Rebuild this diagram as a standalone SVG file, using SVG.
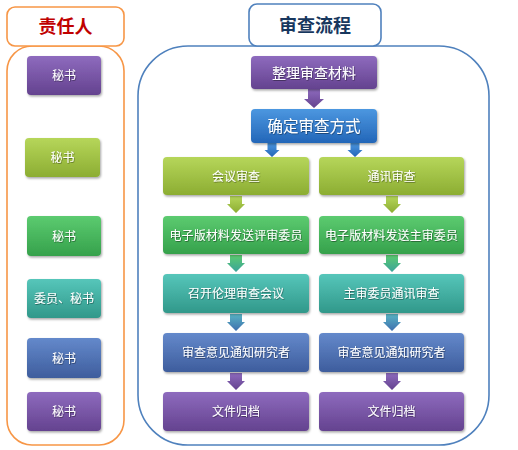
<svg xmlns="http://www.w3.org/2000/svg" width="518" height="450" viewBox="0 0 518 450">
<defs>
<linearGradient id="gPurple" x1="0" y1="0" x2="0" y2="1"><stop offset="0" stop-color="#8E6BBE"/><stop offset="1" stop-color="#64428F"/></linearGradient>
<linearGradient id="gBlue" x1="0" y1="0" x2="0" y2="1"><stop offset="0" stop-color="#4C97E0"/><stop offset="1" stop-color="#2366B8"/></linearGradient>
<linearGradient id="gLime" x1="0" y1="0" x2="0" y2="1"><stop offset="0" stop-color="#B6D65A"/><stop offset="1" stop-color="#8CAD32"/></linearGradient>
<linearGradient id="gGreen" x1="0" y1="0" x2="0" y2="1"><stop offset="0" stop-color="#5CCB70"/><stop offset="1" stop-color="#35A14B"/></linearGradient>
<linearGradient id="gTeal" x1="0" y1="0" x2="0" y2="1"><stop offset="0" stop-color="#56C6BA"/><stop offset="1" stop-color="#31988A"/></linearGradient>
<linearGradient id="gSteel" x1="0" y1="0" x2="0" y2="1"><stop offset="0" stop-color="#6489CB"/><stop offset="1" stop-color="#3E5D9D"/></linearGradient>
<linearGradient id="gArrowGT" x1="0" y1="0" x2="0" y2="1"><stop offset="0" stop-color="#5CCB70"/><stop offset="1" stop-color="#3AA39A"/></linearGradient>
<linearGradient id="gArrowTB" x1="0" y1="0" x2="0" y2="1"><stop offset="0" stop-color="#58B4C4"/><stop offset="1" stop-color="#3F6FAE"/></linearGradient>
<filter id="sh" x="-10%" y="-20%" width="125%" height="150%"><feDropShadow dx="1" dy="1.5" stdDeviation="1.2" flood-color="#000" flood-opacity="0.35"/></filter>
<filter id="tsh" x="-10%" y="-30%" width="130%" height="160%"><feDropShadow dx="0.6" dy="0.8" stdDeviation="0.4" flood-color="#000" flood-opacity="0.45"/></filter>
</defs>
<style>
.t{font-family:"Noto Sans CJK SC","Noto Sans",sans-serif;fill:#fff;text-anchor:middle;filter:url(#tsh)}
.n{filter:url(#sh)}
.h{font-family:"Noto Sans CJK SC","Noto Sans",sans-serif;font-weight:bold;text-anchor:middle}
</style>
<rect width="518" height="450" fill="#fff"/>
<!-- containers -->
<g id="left-container">
<rect x="7" y="46" width="117" height="399" rx="25" fill="#fff" stroke="#F79646" stroke-width="1.6"/>
<rect x="7" y="7" width="117" height="39" rx="8" fill="#fff" stroke="#F79646" stroke-width="1.6"/>
<text class="h" x="65.5" y="33" font-size="18" fill="#C00000">责任人</text>
</g>
<g id="right-container">
<rect x="138" y="46" width="351" height="399" rx="50" fill="#fff" stroke="#4F81BD" stroke-width="1.6"/>
<rect x="249" y="4" width="132" height="42" rx="8" fill="#fff" stroke="#4F81BD" stroke-width="1.6"/>
<text class="h" x="315" y="32" font-size="18" fill="#17375E">审查流程</text>
</g>
<!-- left nodes -->
<g id="r1" class="n"><rect x="27" y="56" width="74" height="39" rx="4" fill="url(#gPurple)"/><text class="t" x="64" y="80" font-size="12">秘书</text></g>
<g id="r2" class="n"><rect x="25" y="138" width="75" height="39" rx="4" fill="url(#gLime)"/><text class="t" x="62.5" y="162" font-size="12">秘书</text></g>
<g id="r3" class="n"><rect x="27" y="216" width="74" height="40" rx="4" fill="url(#gGreen)"/><text class="t" x="64" y="240.5" font-size="12">秘书</text></g>
<g id="r4" class="n"><rect x="27" y="279" width="74" height="39" rx="4" fill="url(#gTeal)"/><text class="t" x="64" y="303" font-size="12">委员、秘书</text></g>
<g id="r5" class="n"><rect x="27" y="338" width="74" height="40" rx="4" fill="url(#gSteel)"/><text class="t" x="64" y="362.5" font-size="12">秘书</text></g>
<g id="r6" class="n"><rect x="27" y="392" width="74" height="39" rx="4" fill="url(#gPurple)"/><text class="t" x="64" y="416" font-size="12">秘书</text></g>
<!-- connectors -->
<g id="connectors">
<path d="M308,89 H320 V99 H324 L314,108 L304,99 H308 Z" fill="url(#gPurple)"/>
<path d="M267.5,143 H276.5 V150 H279.5 L272,157 L264.5,150 H267.5 Z" fill="url(#gBlue)"/>
<path d="M350.5,143 H359.5 V150 H362.5 L355,157 L347.5,150 H350.5 Z" fill="url(#gBlue)"/>
<path d="M230,196 H242 V204 H245 L236,213 L227,204 H230 Z" fill="url(#gLime)"/>
<path d="M386,196 H398 V204 H401 L392,213 L383,204 H386 Z" fill="url(#gLime)"/>
<path d="M230,255 H242 V263 H245 L236,272 L227,263 H230 Z" fill="url(#gArrowGT)"/>
<path d="M386,255 H398 V263 H401 L392,272 L383,263 H386 Z" fill="url(#gArrowGT)"/>
<path d="M230,314 H242 V322 H245 L236,331 L227,322 H230 Z" fill="url(#gArrowTB)"/>
<path d="M386,314 H398 V322 H401 L392,331 L383,322 H386 Z" fill="url(#gArrowTB)"/>
<path d="M230,373 H242 V381 H245 L236,390 L227,381 H230 Z" fill="url(#gPurple)"/>
<path d="M386,373 H398 V381 H401 L392,390 L383,381 H386 Z" fill="url(#gPurple)"/>
</g>
<!-- flow nodes -->
<g id="f1" class="n"><rect x="251" y="56" width="126" height="33" rx="4" fill="url(#gPurple)"/><text class="t" x="314" y="77.5" font-size="14">整理审查材料</text></g>
<g id="f2" class="n"><rect x="251" y="109" width="126" height="34" rx="4" fill="url(#gBlue)"/><text class="t" x="314" y="131.5" font-size="15.5">确定审查方式</text></g>
<g id="a1" class="n"><rect x="163" y="157" width="146" height="38" rx="4" fill="url(#gLime)"/><text class="t" x="236" y="180.5" font-size="12">会议审查</text></g>
<g id="b1" class="n"><rect x="319" y="157" width="145" height="38" rx="4" fill="url(#gLime)"/><text class="t" x="391.5" y="180.5" font-size="12">通讯审查</text></g>
<g id="a2" class="n"><rect x="163" y="216" width="146" height="38" rx="4" fill="url(#gGreen)"/><text class="t" x="236" y="239.5" font-size="12" letter-spacing="0.1">电子版材料发送评审委员</text></g>
<g id="b2" class="n"><rect x="319" y="216" width="145" height="38" rx="4" fill="url(#gGreen)"/><text class="t" x="391.5" y="239.5" font-size="12" letter-spacing="0.1">电子版材料发送主审委员</text></g>
<g id="a3" class="n"><rect x="163" y="274" width="146" height="39" rx="4" fill="url(#gTeal)"/><text class="t" x="236" y="298" font-size="12">召开伦理审查会议</text></g>
<g id="b3" class="n"><rect x="319" y="274" width="145" height="39" rx="4" fill="url(#gTeal)"/><text class="t" x="391.5" y="298" font-size="12">主审委员通讯审查</text></g>
<g id="a4" class="n"><rect x="163" y="333" width="146" height="39" rx="4" fill="url(#gSteel)"/><text class="t" x="236" y="357" font-size="12">审查意见通知研究者</text></g>
<g id="b4" class="n"><rect x="319" y="333" width="145" height="39" rx="4" fill="url(#gSteel)"/><text class="t" x="391.5" y="357" font-size="12">审查意见通知研究者</text></g>
<g id="a5" class="n"><rect x="163" y="392" width="146" height="39" rx="4" fill="url(#gPurple)"/><text class="t" x="236" y="416" font-size="12">文件归档</text></g>
<g id="b5" class="n"><rect x="319" y="392" width="145" height="39" rx="4" fill="url(#gPurple)"/><text class="t" x="391.5" y="416" font-size="12">文件归档</text></g>
</svg>
